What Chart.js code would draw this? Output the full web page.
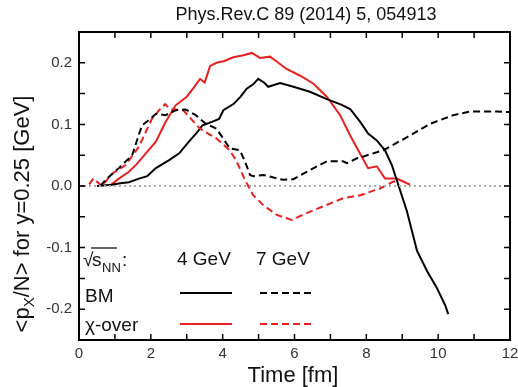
<!DOCTYPE html>
<html>
<head>
<meta charset="utf-8">
<script src="https://cdn.jsdelivr.net/npm/chart.js@4"></script>
<style>
  body { margin: 0; background: #fff; }
</style>
</head>
<body>
<canvas id="pxChart" width="518" height="387"></canvas>
<script>
const FONT = '"Liberation Sans", Arial, sans-serif';

// BM, sqrt(s_NN) = 4 GeV (black solid)
const bm4T = [0.5, 0.92, 1.1, 1.39, 1.67, 1.9, 2.14, 2.51, 2.79, 3.06, 3.3, 3.43, 3.56, 3.7, 3.9, 4.02, 4.3, 4.5, 4.67, 4.85, 4.99, 5.15, 5.27, 5.6, 5.97, 6.43, 6.9, 7.3, 7.55, 7.83, 8.05, 8.29, 8.52, 8.71, 8.89, 9.13, 9.41, 9.69, 9.96, 10.2, 10.28];
const bm4V = [0.0, 0.002, 0.004, 0.006, 0.012, 0.016, 0.029, 0.042, 0.053, 0.072, 0.088, 0.098, 0.101, 0.104, 0.109, 0.123, 0.133, 0.145, 0.158, 0.165, 0.174, 0.168, 0.161, 0.167, 0.161, 0.153, 0.141, 0.132, 0.125, 0.104, 0.085, 0.074, 0.058, 0.034, 0.002, -0.041, -0.105, -0.138, -0.165, -0.194, -0.208];

// BM, 7 GeV (black dashed)
const bm7T = [0.6, 0.74, 1.11, 1.48, 1.75, 1.9, 2.14, 2.41, 2.69, 2.97, 3.25, 3.53, 3.83, 4.2, 4.48, 4.62, 4.76, 4.85, 5.13, 5.68, 5.97, 6.43, 6.9, 7.35, 7.46, 7.74, 7.92, 8.47, 9.22, 9.78, 10.42, 10.9, 11.64, 12.0];
const bm7V = [0.0, 0.01, 0.029, 0.05, 0.098, 0.105, 0.117, 0.115, 0.123, 0.124, 0.115, 0.101, 0.093, 0.061, 0.058, 0.04, 0.018, 0.016, 0.018, 0.01, 0.011, 0.026, 0.04, 0.04, 0.037, 0.045, 0.048, 0.058, 0.082, 0.101, 0.115, 0.121, 0.121, 0.12];

// chi-over, 4 GeV (red solid)
const xo4T = [0.84, 1.11, 1.39, 1.6, 1.86, 2.14, 2.41, 2.69, 3.0, 3.2, 3.37, 3.5, 3.65, 3.83, 4.05, 4.29, 4.55, 4.81, 5.04, 5.32, 5.55, 5.78, 6.16, 6.53, 6.9, 7.27, 7.55, 7.87, 8.05, 8.29, 8.52, 8.85, 9.22];
const xo4V = [0.0, 0.012, 0.023, 0.035, 0.053, 0.072, 0.104, 0.131, 0.145, 0.16, 0.174, 0.168, 0.195, 0.2, 0.203, 0.209, 0.212, 0.216, 0.208, 0.21, 0.2, 0.19, 0.179, 0.166, 0.145, 0.115, 0.082, 0.048, 0.029, 0.032, 0.012, 0.012, 0.002];

// chi-over, 7 GeV (red dashed)
const xo7T = [0.0, 0.25, 0.4, 0.64, 0.92, 1.3, 1.67, 2.03, 2.23, 2.4, 2.53, 2.9, 3.37, 3.83, 4.2, 4.39, 4.62, 4.85, 5.13, 5.51, 5.92, 6.34, 6.8, 7.35, 7.83, 8.38, 8.75, 8.95];
const xo7V = [0.0, 0.0, 0.012, 0.0, 0.02, 0.034, 0.064, 0.109, 0.123, 0.133, 0.125, 0.123, 0.093, 0.077, 0.058, 0.04, 0.01, -0.015, -0.031, -0.047, -0.055, -0.044, -0.033, -0.02, -0.015, -0.004, 0.007, 0.01];

// reference line at zero
const zeroT = [0, 12];
const zeroV = [0, 0];

const yTicks = [-0.2, -0.1, 0.0, 0.1, 0.2];

const RED = "rgb(232,32,32)";
const BLACK = "#000";

function pts(t, v) {
  return t.map((x, i) => ({x: x, y: v[i]}));
}

function series(t, v, color, dash) {
  return {
    data: pts(t, v),
    borderColor: color,
    borderWidth: 2,
    borderDash: dash,
    pointRadius: 0,
    tension: 0,
    fill: false
  };
}

// frame, inward ticks, axis titles, legend
const decor = {
  id: "decor",
  afterDraw(chart) {
    const ctx = chart.ctx;
    const a = chart.chartArea;
    const xs = chart.scales.x, ys = chart.scales.y;
    ctx.save();
    ctx.strokeStyle = "#000";
    ctx.lineWidth = 2;
    ctx.strokeRect(a.left, a.top, a.right - a.left, a.bottom - a.top);

    const tl = 6;
    ctx.lineWidth = 1.5;
    ctx.beginPath();
    for (let t = 1; t < 12; t++) {
      const px = xs.getPixelForValue(t);
      ctx.moveTo(px, a.bottom); ctx.lineTo(px, a.bottom - tl);
      ctx.moveTo(px, a.top); ctx.lineTo(px, a.top + tl);
    }
    for (let k = -4; k <= 4; k++) {
      const py = ys.getPixelForValue(k * 0.05);
      ctx.moveTo(a.left, py); ctx.lineTo(a.left + tl, py);
      ctx.moveTo(a.right, py); ctx.lineTo(a.right - tl, py);
    }
    ctx.stroke();

    // title
    ctx.fillStyle = "#111";
    ctx.textAlign = "center";
    ctx.textBaseline = "middle";
    ctx.font = "18px " + FONT;
    ctx.fillText("Phys.Rev.C 89 (2014) 5, 054913", 306, 15);

    // x axis title
    ctx.font = "22px " + FONT;
    ctx.fillText("Time [fm]", 293, 376);

    // y axis title with subscript
    ctx.save();
    ctx.translate(21, 214);
    ctx.rotate(-Math.PI / 2);
    const p1 = "<p", sub = "X", p2 = "/N> for y=0.25 [GeV]";
    ctx.font = "22px " + FONT;
    const w1 = ctx.measureText(p1).width, w3 = ctx.measureText(p2).width;
    ctx.font = "15px " + FONT;
    const w2 = ctx.measureText(sub).width;
    const total = w1 + w2 + w3;
    let x0 = -total / 2;
    ctx.textAlign = "left";
    ctx.textBaseline = "alphabetic";
    ctx.font = "22px " + FONT;
    ctx.fillText(p1, x0, 8);
    ctx.font = "15px " + FONT;
    ctx.fillText(sub, x0 + w1, 13);
    ctx.font = "22px " + FONT;
    ctx.fillText(p2, x0 + w1 + w2, 8);
    ctx.restore();

    // legend
    ctx.textAlign = "left";
    ctx.textBaseline = "alphabetic";
    ctx.fillStyle = "#111";
    ctx.font = "19px " + FONT;
    ctx.fillText("\u221A", 83, 266);
    ctx.fillText("s", 92, 266);
    ctx.lineWidth = 1.2;
    ctx.beginPath();
    ctx.moveTo(91, 248); ctx.lineTo(117, 248);
    ctx.stroke();
    ctx.font = "13px " + FONT;
    ctx.fillText("NN", 102, 272);
    ctx.font = "19px " + FONT;
    ctx.fillText(":", 122, 266);
    ctx.fillText("4 GeV", 177, 265);
    ctx.fillText("7 GeV", 256, 265);
    ctx.fillText("BM", 85, 302);
    ctx.fillText("\u03C7-over", 85, 331);

    const rows = [[293, BLACK], [324, RED]];
    ctx.lineWidth = 2;
    rows.forEach(([y, c]) => {
      ctx.strokeStyle = c;
      ctx.setLineDash([]);
      ctx.beginPath(); ctx.moveTo(180, y); ctx.lineTo(232, y); ctx.stroke();
      ctx.setLineDash([7, 4]);
      ctx.beginPath(); ctx.moveTo(260, y); ctx.lineTo(314, y); ctx.stroke();
    });
    ctx.restore();
  }
};

new Chart("pxChart", {
  type: "line",
  data: {
    datasets: [
      {
        data: pts(zeroT, zeroV),
        borderColor: "#aaaaaa",
        borderWidth: 2,
        borderDash: [2, 3],
        pointRadius: 0,
        fill: false
      },
      series(bm7T, bm7V, BLACK, [7, 4]),
      series(xo7T, xo7V, RED, [7, 4]),
      series(bm4T, bm4V, BLACK, []),
      series(xo4T, xo4V, RED, [])
    ]
  },
  options: {
    responsive: false,
    animation: false,
    layout: {padding: {top: 32, right: 8, left: 0, bottom: 0}},
    plugins: {legend: {display: false}, tooltip: {enabled: false}},
    scales: {
      x: {
        type: "linear",
        min: 0,
        max: 12,
        grid: {display: false, drawTicks: false},
        border: {display: false},
        ticks: {stepSize: 2, padding: 5, color: "#333", font: {size: 15, family: FONT}},
        afterFit(s) { s.height = 47; s.paddingLeft = 0; s.paddingRight = 0; }
      },
      y: {
        type: "linear",
        min: -0.25,
        max: 0.25,
        grid: {display: false, drawTicks: false},
        border: {display: false},
        afterBuildTicks(s) { s.ticks = yTicks.map(v => ({value: v})); },
        ticks: {
          padding: 7,
          color: "#333",
          font: {size: 15, family: FONT},
          callback: v => v.toFixed(1)
        },
        afterFit(s) { s.width = 79; s.paddingTop = 0; s.paddingBottom = 0; }
      }
    }
  },
  plugins: [decor]
});
</script>
</body>
</html>
